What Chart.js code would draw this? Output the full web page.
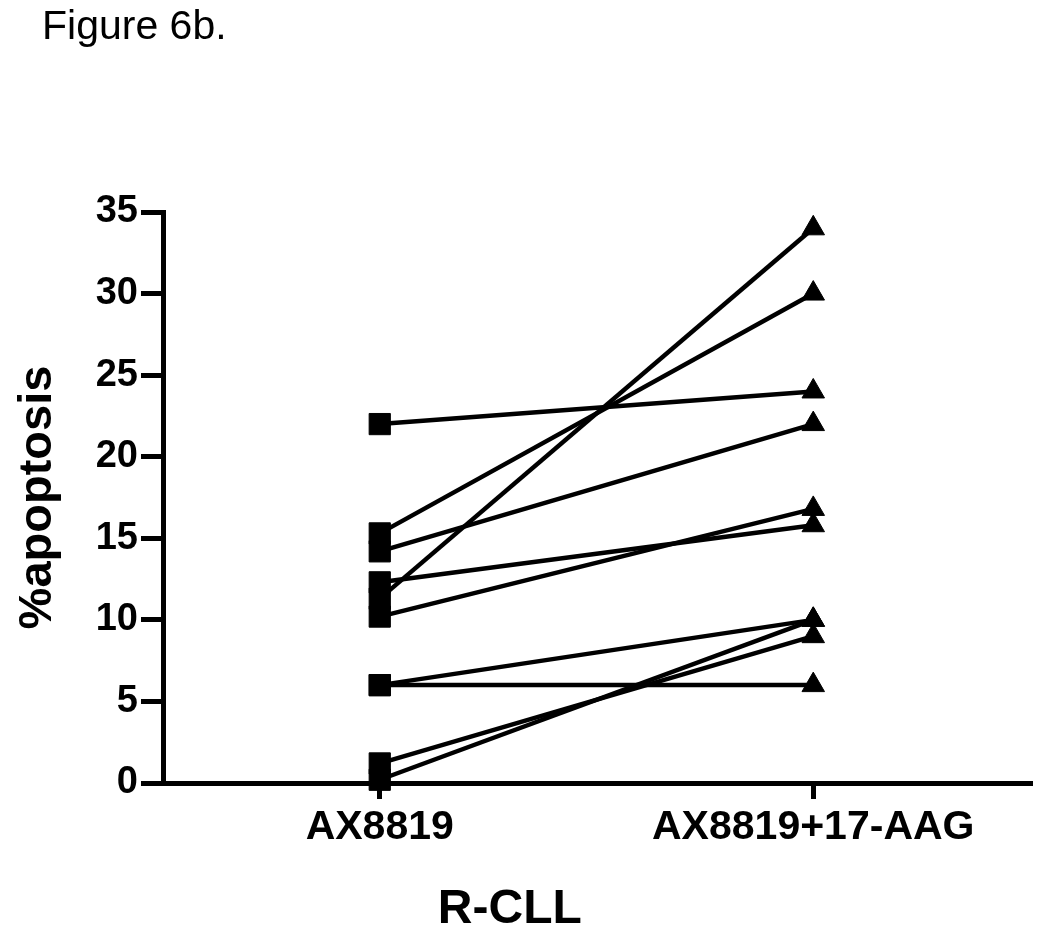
<!DOCTYPE html>
<html>
<head>
<meta charset="utf-8">
<script src="https://cdn.jsdelivr.net/npm/chart.js@4"></script>
<style>
  body { margin: 0; background: #fff; }
  #wrap { position: relative; width: 1050px; height: 951px; }
  #caption { position: absolute; left: 42px; top: 5px; font: 41px "Liberation Sans", Arial, sans-serif; line-height: 1; color: #000; }
</style>
</head>
<body>
<div id="wrap">
  <div id="caption">Figure 6b.</div>
  <canvas id="chart"></canvas>
</div>
<script>
var categories = ['AX8819', 'AX8819+17-AAG'];
// one pair of values per sample (before / after)
var ax8819 = [22, 15.3, 14.2, 12.3, 11.3, 10.2, 6, 6, 1.2, 0.2];
var ax8819Aag = [24, 30, 22, 15.8, 34, 16.8, 10, 6, 9, 10];
var yTitle = '%apoptosis';
var xTitle = 'R-CLL';

var FONT = '"Liberation Sans", Arial, sans-serif';

var ctx = document.getElementById('chart').getContext('2d');
ctx.canvas.width = 1050;
ctx.canvas.height = 951;

var datasets = ax8819.map(function (v, i) {
    return {
        data: [v, ax8819Aag[i]],
        borderColor: '#000',
        borderWidth: 4.5,
        pointStyle: ['rect', 'triangle'],
        pointRadius: [15, 13],
        pointBackgroundColor: '#000',
        pointBorderColor: '#000',
        pointBorderWidth: 1,
        clip: false
    };
});

// x axis title sits left of centre in the original
var xTitlePlugin = {
    id: 'xTitle',
    afterDraw: function (c) {
        var a = c.chartArea;
        var g = c.ctx;
        g.save();
        g.font = 'bold 48px ' + FONT;
        g.fillStyle = '#000';
        g.textAlign = 'center';
        g.textBaseline = 'alphabetic';
        g.fillText(xTitle, a.left + (a.right - a.left) * 0.4, 923);
        g.restore();
    }
};

var chart = new Chart(ctx, {
    type: 'line',
    data: { labels: categories, datasets: datasets },
    options: {
        responsive: false,
        animation: false,
        layout: { padding: { top: 212, right: 20, left: 0, bottom: 0 } },
        plugins: {
            legend: { display: false },
            tooltip: { enabled: false }
        },
        scales: {
            x: {
                offset: true,
                grid: { drawOnChartArea: false, offset: false, tickLength: 16, lineWidth: 5, color: '#000' },
                border: { display: true, width: 5, color: '#000' },
                ticks: { padding: 4, color: '#000', font: { family: FONT, size: 41, weight: 'bold' } },
                afterFit: function (s) { s.height = 168; }
            },
            y: {
                min: 0,
                max: 35,
                ticks: { stepSize: 5, padding: 3, color: '#000', font: { family: FONT, size: 38, weight: 'bold' } },
                grid: { drawOnChartArea: false, tickLength: 22, lineWidth: 5, color: '#000' },
                border: { display: true, width: 5, color: '#000' },
                title: { display: true, text: yTitle, color: '#000', padding: { top: 10, bottom: 0 }, font: { family: FONT, size: 47, weight: 'bold' } },
                afterFit: function (s) { s.width = 163; }
            }
        }
    },
    plugins: [xTitlePlugin]
});
</script>
</body>
</html>
